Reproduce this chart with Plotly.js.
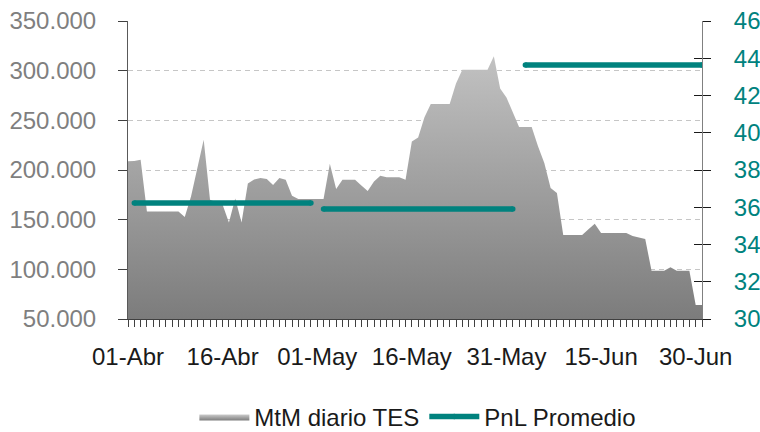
<!DOCTYPE html>
<html><head><meta charset="utf-8">
<script src="https://cdn.plot.ly/plotly-3.0.1.min.js"></script>
<style>html,body{margin:0;padding:0;background:#fff}#chart{width:760px;height:432px}</style>
</head><body><div id="chart"></div>
<script>
const dates = [
 '2014-04-01','2014-04-02','2014-04-03','2014-04-04','2014-04-05','2014-04-06','2014-04-07','2014-04-08','2014-04-09','2014-04-10',
 '2014-04-11','2014-04-12','2014-04-13','2014-04-14','2014-04-15','2014-04-16','2014-04-17','2014-04-18','2014-04-19','2014-04-20',
 '2014-04-21','2014-04-22','2014-04-23','2014-04-24','2014-04-25','2014-04-26','2014-04-27','2014-04-28','2014-04-29','2014-04-30',
 '2014-05-01','2014-05-02','2014-05-03','2014-05-04','2014-05-05','2014-05-06','2014-05-07','2014-05-08','2014-05-09','2014-05-10',
 '2014-05-11','2014-05-12','2014-05-13','2014-05-14','2014-05-15','2014-05-16','2014-05-17','2014-05-18','2014-05-19','2014-05-20',
 '2014-05-21','2014-05-22','2014-05-23','2014-05-24','2014-05-25','2014-05-26','2014-05-27','2014-05-28','2014-05-29','2014-05-30',
 '2014-05-31','2014-06-01','2014-06-02','2014-06-03','2014-06-04','2014-06-05','2014-06-06','2014-06-07','2014-06-08','2014-06-09',
 '2014-06-10','2014-06-11','2014-06-12','2014-06-13','2014-06-14','2014-06-15','2014-06-16','2014-06-17','2014-06-18','2014-06-19',
 '2014-06-20','2014-06-21','2014-06-22','2014-06-23','2014-06-24','2014-06-25','2014-06-26','2014-06-27','2014-06-28','2014-06-29',
 '2014-06-30','2014-07-01'
];
const mtmDiarioTES = [
 208700,209000,210400,158300,158300,158300,158300,158300,158300,152700,
 173500,202000,230500,170000,167500,165000,147200,171400,147200,186500,
 190500,192000,191000,185000,192000,190200,174100,170800,170800,170800,
 170800,170800,206300,180900,190200,190200,190200,184500,178900,188500,
 194300,192600,192600,192600,190200,228800,232800,253000,266400,266400,
 266400,266400,287000,301000,301000,301000,301000,301000,314400,282000,
 273000,257400,243300,243300,243300,223800,207000,181900,176800,134600,
 134600,134600,134600,140300,145900,136600,136600,136600,136600,136600,
 133500,132000,130500,98600,98600,98600,102000,98600,98600,98600,
 64100,64100
];
const pnlStart = ['2014-04-02','2014-05-02','2014-06-03'];
const pnlEnd   = ['2014-04-30','2014-06-01','2014-07-01'];
const pnlPromedio = [36.23, 35.9, 43.64];
const tickDates  = ['2014-04-01','2014-04-16','2014-05-01','2014-05-16','2014-05-31','2014-06-15','2014-06-30'];
const tickLabels = ['01-Abr','16-Abr','01-May','16-May','31-May','15-Jun','30-Jun'];

const pnlX = [], pnlY = [];
pnlStart.forEach((s, i) => {
  if (i > 0) { pnlX.push(null); pnlY.push(null); }
  pnlX.push(s, pnlEnd[i]);
  pnlY.push(pnlPromedio[i], pnlPromedio[i]);
});

const teal = '#00827e';
const traces = [
  {
    type: 'scatter', mode: 'lines', name: 'MtM diario TES',
    x: dates, y: mtmDiarioTES, fill: 'tozeroy',
    line: {width: 0, color: '#a0a0a0'},
    fillgradient: {type: 'vertical', start: 50000, stop: 350000,
      colorscale: [[0, '#7c7c7c'], [1, '#cbcbcb']]},
    hoverinfo: 'x+y'
  },
  {
    type: 'scatter', mode: 'lines+markers', name: 'PnL Promedio',
    x: pnlX, y: pnlY, yaxis: 'y2', connectgaps: false,
    line: {width: 5.5, color: teal},
    marker: {size: 5.5, color: teal, line: {width: 0}}
  },
  {
    type: 'scatter', mode: 'lines', x: [], y: [], yaxis: 'y3', showlegend: false, hoverinfo: 'skip'
  }
];

const axisDark = '#404040';
const layout = {
  width: 760, height: 432,
  margin: {l: 128, r: 58, t: 21, b: 113, autoexpand: false},
  separators: ',.',
  font: {family: '"Liberation Sans", Arial, sans-serif', size: 24, color: '#1a1a1a'},
  paper_bgcolor: '#ffffff', plot_bgcolor: '#ffffff',
  showlegend: true,
  legend: {orientation: 'h', x: 0.505, xref: 'paper', xanchor: 'center',
    yref: 'container', y: 0.035, yanchor: 'middle',
    font: {size: 24, color: '#1a1a1a'}, traceorder: 'normal', itemwidth: 50},
  xaxis: {
    type: 'date', range: ['2014-04-01', '2014-07-01'],
    tickmode: 'array', tickvals: tickDates, ticktext: tickLabels,
    ticks: 'outside', ticklen: 7, tickcolor: axisDark, tickwidth: 1,
    showline: true, linecolor: axisDark, linewidth: 1,
    showgrid: false, zeroline: false,
    minor: {tickmode: 'linear', tick0: '2014-04-01', dtick: 86400000, ticks: 'outside',
      ticklen: 7, tickcolor: axisDark, tickwidth: 1, showgrid: false},
    tickfont: {size: 24, color: '#1a1a1a'},
    ticklabelstandoff: 9
  },
  yaxis: {
    range: [50000, 350000], dtick: 50000, tickformat: ',.0f',
    ticks: 'outside', ticklen: 9, tickcolor: axisDark,
    showline: true, linecolor: '#595959', linewidth: 1,
    showgrid: true, gridcolor: '#c6c6c6', gridwidth: 1, griddash: '5px,4px',
    zeroline: false, tickfont: {size: 24, color: '#7f7f7f'},
    ticklabelstandoff: 17
  },
  yaxis2: {
    overlaying: 'y', side: 'right', range: [30, 46], dtick: 2,
    ticks: 'outside', ticklen: 8, tickcolor: '#1a1a1a',
    showline: true, linecolor: '#808080', linewidth: 1,
    showgrid: false, zeroline: false,
    tickfont: {size: 24, color: teal},
    ticklabelstandoff: 18
  },
  yaxis3: {
    overlaying: 'y', side: 'right', range: [30, 46], dtick: 2,
    ticks: 'inside', ticklen: 8, tickcolor: '#1a1a1a',
    showticklabels: false, showline: false, showgrid: false, zeroline: false
  }
};

Plotly.newPlot('chart', traces, layout, {displayModeBar: false, staticPlot: true});
</script>
</body></html>
